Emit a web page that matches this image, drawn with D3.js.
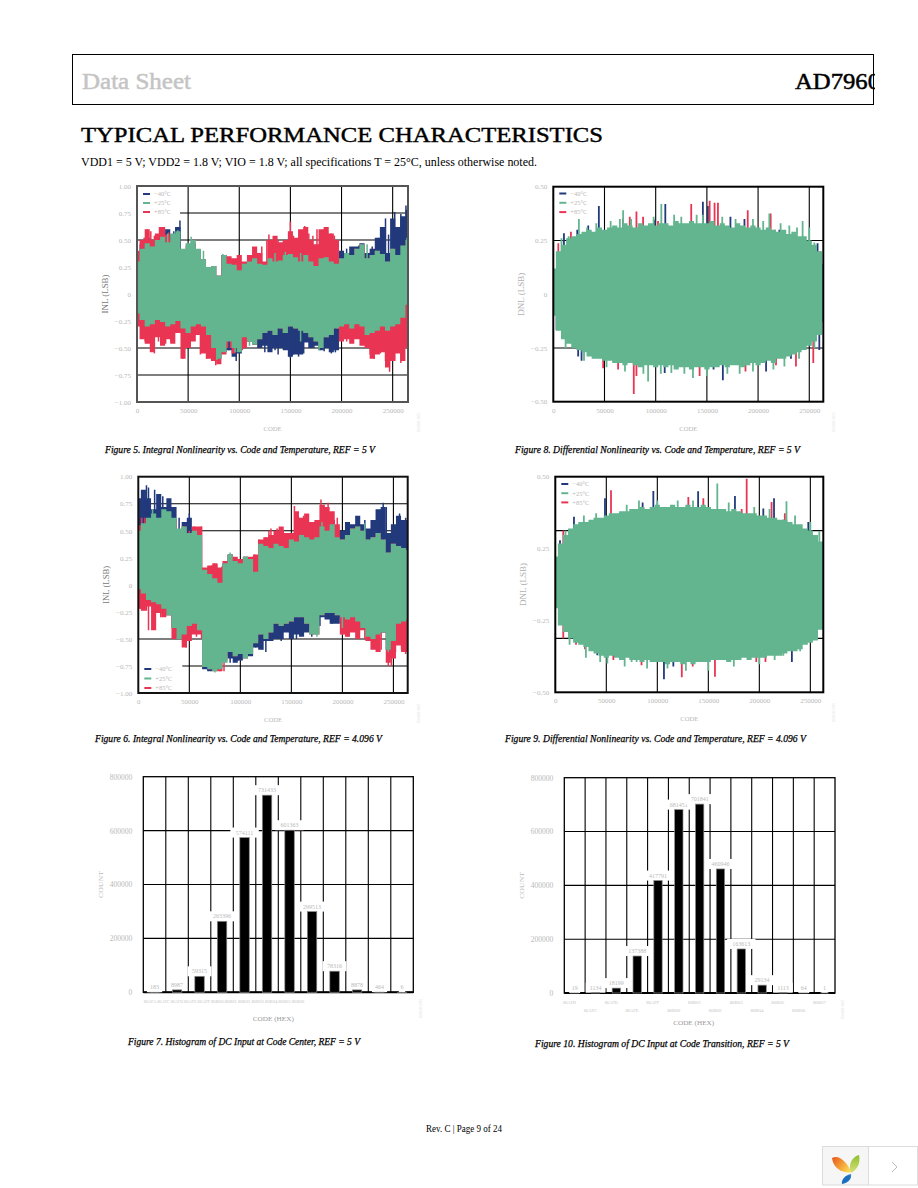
<!DOCTYPE html>
<html><head><meta charset="utf-8">
<script src="https://cdn.jsdelivr.net/npm/d3@7/dist/d3.min.js"></script>
<style>html,body{margin:0;padding:0;background:#fff}svg{display:block}</style>
</head><body><div id="page"></div>
<script>
const seriesColors = {blue:"#223a7c", green:"#62b58f", red:"#e93553"};
const legendLabels = ["\u221240\u00b0C","+25\u00b0C","+85\u00b0C"];
const codes = d3.range(0,270000,5000);
const xTicks = [0,50000,100000,150000,200000,250000];
const inlTicks = [1,.75,.5,.25,0,-.25,-.5,-.75,-1];
const inlTickLabels = ["1.00","0.75","0.50","0.25","0","\u22120.25","\u22120.50","\u22120.75","\u22121.00"];
const dnl5TickVals = [.5,.25,0,-.25,-.5];
const dnl5TickLabels = ["0.50","0.25","0","\u22120.25","\u22120.50"];
const dnl4TickLabels = ["0.50","0.25","\u22120.25","\u22120.50"];
const dnlGrid = [.25,-.25];

// Figure 5
const f5GreenU=[.30,.42,.47,.44,.50,.53,.48,.56,.58,.42,.47,.50,.42,.32,.25,.26,.17,.36,.28,.27,.22,.28,.30,.33,.28,.27,.33,.30,.31,.36,.37,.34,.30,.36,.30,.26,.33,.34,.30,.28,.33,.38,.36,.42,.46,.33,.36,.40,.37,.30,.42,.36,.45,.50];
const f5RedU=[.40,.50,.60,.50,.56,.62,.55,.50,.55,.40,.45,.48,.40,.32,.25,.26,.17,.36,.35,.33,.36,.30,.36,.44,.38,.30,.50,.54,.48,.50,.58,.52,.60,.62,.50,.46,.60,.62,.56,.50,.32,.34,.36,.42,.46,.33,.36,.40,.37,.30,.42,.36,.45,.50];
const f5BlueU=[.38,.46,.52,.46,.50,.56,.60,.55,.62,.40,.42,.46,.40,.32,.25,.26,.17,.36,.28,.27,.22,.28,.30,.33,.28,.27,.33,.30,.31,.36,.37,.34,.30,.36,.30,.26,.33,.34,.30,.30,.40,.38,.44,.44,.47,.38,.42,.52,.62,.38,.70,.62,.72,.78];
const f5GreenL=[-.18,-.24,-.30,-.28,-.24,-.26,-.30,-.28,-.25,-.32,-.36,-.30,-.28,-.30,-.38,-.50,-.60,-.54,-.44,-.50,-.54,-.40,-.44,-.47,-.42,-.36,-.34,-.38,-.32,-.36,-.30,-.32,-.34,-.36,-.40,-.44,-.50,-.40,-.38,-.32,-.30,-.28,-.32,-.28,-.30,-.38,-.36,-.34,-.30,-.34,-.30,-.28,-.22,-.10];
const f5RedL=[-.30,-.42,-.46,-.54,-.40,-.48,-.42,-.46,-.36,-.60,-.50,-.44,-.38,-.55,-.60,-.62,-.65,-.56,-.50,-.55,-.50,-.50,-.44,-.47,-.42,-.36,-.34,-.38,-.32,-.36,-.30,-.32,-.34,-.36,-.40,-.44,-.50,-.40,-.38,-.32,-.44,-.42,-.46,-.42,-.48,-.50,-.60,-.56,-.54,-.68,-.62,-.55,-.62,-.50];
const f5BlueL=[-.18,-.24,-.30,-.28,-.24,-.26,-.30,-.28,-.25,-.32,-.36,-.30,-.28,-.30,-.38,-.50,-.60,-.54,-.52,-.58,-.55,-.42,-.44,-.47,-.50,-.48,-.54,-.50,-.50,-.52,-.58,-.56,-.56,-.45,-.50,-.48,-.52,-.50,-.54,-.52,-.30,-.28,-.32,-.28,-.30,-.38,-.36,-.34,-.30,-.34,-.30,-.28,-.22,-.10];
const f5RedSpikes=[[10000,.60],[13500,.58],[22000,.62],[26000,.58],[7000,.52],[17000,.54],[31000,.57],[122000,.44],[127000,.50],[129000,.55],[133000,.50],[138000,.50],[142000,.46],[150000,.67],[153000,.54],[157000,.50],[161000,.59],[164000,.63],[168000,.56],[172000,.54],[176000,.60],[179000,.52],[183000,.60],[186000,.62],[190000,.56],[193000,.54],[3000,-.30],[8000,-.44],[12000,-.34],[17000,-.55],[21000,-.44],[28000,-.46],[33000,-.44],[38000,-.36],[45000,-.60],[52000,-.50],[62000,-.56],[68000,-.60],[73000,-.62],[77000,-.66],[85000,-.55],[92000,-.50],[103000,-.52],[205000,-.44],[212000,-.40],[220000,-.46],[228000,-.56],[232000,-.60],[238000,-.55],[243000,-.62],[247000,-.72],[252000,-.62],[258000,-.64],[263000,-.50]];
const f5BlueSpikes=[[42000,.68],[36000,.58],[4000,.42],[38000,.62],[230000,.44],[236000,.52],[240000,.60],[243000,.70],[246000,.55],[252000,.76],[255000,.60],[258000,.74],[261000,.70],[263000,.82],[211000,.43],[205000,.42],[221000,.46],[217000,.45],[97000,-.62],[90000,-.52],[115000,-.44],[120000,-.50],[125000,-.54],[135000,-.52],[138000,-.56],[150000,-.59],[153000,-.56],[158000,-.58],[163000,-.55],[183000,-.53],[190000,-.55],[194000,-.54],[173000,-.50]];
const f5GreenSpikes=[[40000,.59],[30000,.56],[53000,.53],[84000,.37],[65000,.40],[135000,.38],[145000,.39],[160000,.38],[225000,.46],[264000,.52],[78000,-.61],[160000,-.44],[178000,-.52],[110000,-.48],[96000,-.54]];
// Figure 6
const f6GreenU=[.50,.57,.62,.66,.62,.70,.68,.62,.52,.54,.48,.50,.46,.14,.10,.06,.02,.20,.28,.22,.20,.26,.24,.12,.38,.36,.34,.38,.36,.34,.42,.40,.46,.44,.42,.44,.54,.50,.56,.44,.42,.46,.52,.54,.50,.42,.44,.48,.42,.30,.38,.36,.34,.32];
const f6RedU=[.55,.62,.60,.58,.60,.58,.58,.60,.50,.54,.34,.54,.54,.16,.18,.20,.16,.22,.28,.26,.24,.26,.26,.28,.42,.44,.46,.50,.54,.48,.48,.68,.62,.66,.58,.60,.74,.72,.68,.56,.42,.46,.52,.54,.50,.42,.44,.48,.42,.30,.38,.36,.34,.32];
const f6BlueU=[.80,.88,.80,.70,.84,.72,.80,.72,.50,.58,.62,.40,.40,.14,.10,.06,.02,.20,.28,.22,.20,.26,.24,.12,.38,.36,.34,.38,.36,.34,.42,.40,.46,.44,.42,.44,.54,.50,.56,.50,.50,.58,.56,.64,.56,.52,.60,.70,.72,.48,.56,.64,.60,.60];
const f6GreenL=[-.04,-.08,-.14,-.16,-.18,-.22,-.28,-.40,-.50,-.46,-.38,-.36,-.42,-.76,-.78,-.80,-.78,-.72,-.62,-.66,-.64,-.68,-.64,-.54,-.46,-.50,-.44,-.36,-.38,-.36,-.34,-.30,-.30,-.36,-.46,-.46,-.28,-.26,-.26,-.28,-.30,-.32,-.30,-.34,-.40,-.48,-.50,-.46,-.44,-.60,-.52,-.36,-.34,-.32];
const f6RedL=[-.22,-.24,-.20,-.42,-.26,-.30,-.28,-.50,-.50,-.58,-.52,-.46,-.46,-.76,-.78,-.80,-.80,-.70,-.62,-.66,-.64,-.68,-.64,-.54,-.46,-.50,-.44,-.36,-.38,-.36,-.34,-.30,-.30,-.36,-.46,-.46,-.28,-.26,-.26,-.28,-.46,-.48,-.44,-.50,-.42,-.52,-.60,-.62,-.44,-.72,-.68,-.56,-.62,-.62];
const f6BlueL=[-.04,-.08,-.14,-.16,-.18,-.22,-.28,-.40,-.50,-.46,-.38,-.36,-.42,-.78,-.80,-.78,-.70,-.66,-.68,-.72,-.70,-.64,-.66,-.58,-.60,-.52,-.52,-.50,-.50,-.44,-.50,-.46,-.48,-.44,-.40,-.36,-.30,-.32,-.36,-.36,-.30,-.32,-.30,-.34,-.40,-.48,-.50,-.46,-.44,-.60,-.52,-.36,-.34,-.32];
const f6RedSpikes=[[62000,.54],[55000,.54],[50000,.50],[72000,.18],[77000,.19],[82000,.17],[88000,.22],[92000,.25],[100000,.20],[108000,.25],[112000,.26],[114000,.28],[118000,.42],[125000,.44],[128000,.50],[132000,.46],[130000,.52],[136000,.52],[142000,.50],[147000,.48],[153000,.73],[158000,.62],[162000,.64],[170000,.58],[179000,.79],[182000,.74],[186000,.76],[192000,.60],[195000,.62],[2000,-.22],[8000,-.24],[10000,-.42],[16000,-.26],[22000,-.30],[36000,-.50],[42000,-.46],[47000,-.58],[57000,-.48],[62000,-.50],[65000,-.55],[80000,-.80],[84000,-.80],[200000,-.46],[205000,-.48],[215000,-.44],[222000,-.50],[232000,-.56],[238000,-.60],[245000,-.75],[248000,-.75],[252000,-.62],[258000,-.60],[262000,-.64]];
const f6BlueSpikes=[[8000,.92],[10000,.90],[16000,.88],[24000,.82],[5000,.80],[30000,.70],[40000,.62],[50000,.66],[205000,.52],[215000,.56],[222000,.60],[227000,.50],[236000,.56],[240000,.76],[243000,.72],[256000,.66],[262000,.62],[68000,-.79],[90000,-.72],[98000,-.70],[115000,-.58],[122000,-.60],[125000,-.62],[132000,-.50],[140000,-.52],[155000,-.50],[160000,-.46],[170000,-.48],[178000,-.38],[190000,-.36]];
const f6GreenSpikes=[[14000,.70],[35000,.53],[44000,.54],[90000,.30],[180000,.58],[222000,.57],[75000,-.81],[175000,-.48],[200000,-.40],[245000,-.62]];
// Figure 8
const f8GreenU=[.12,.20,.23,.26,.27,.28,.29,.30,.29,.31,.30,.31,.32,.31,.33,.32,.31,.33,.32,.33,.32,.33,.33,.32,.34,.33,.33,.34,.33,.33,.33,.34,.32,.33,.32,.31,.33,.32,.31,.32,.31,.30,.31,.30,.29,.30,.28,.29,.27,.27,.25,.23,.20,.14];
const f8GreenL=[-.10,-.17,-.21,-.23,-.25,-.26,-.27,-.29,-.30,-.30,-.31,-.31,-.32,-.32,-.33,-.32,-.33,-.34,-.33,-.33,-.34,-.33,-.34,-.33,-.35,-.34,-.34,-.35,-.34,-.34,-.35,-.34,-.34,-.33,-.34,-.33,-.33,-.34,-.33,-.32,-.33,-.32,-.31,-.32,-.30,-.30,-.29,-.28,-.27,-.26,-.24,-.22,-.19,-.13];
const f8BlueSpikes=[[10400,.284],[23400,.30],[34100,.32],[44500,.41],[99000,.346],[109400,.42],[146100,.43],[151000,.41],[173000,.36],[186700,.35],[220800,.30],[258100,.237],[3200,-.166],[24300,-.29],[27600,-.31],[108800,-.367],[165600,-.40],[156500,-.35],[207800,-.36],[259800,-.26],[250000,-.24],[232100,-.30]];
const f8RedSpikes=[[4900,.237],[17200,.29],[68000,.35],[74700,.36],[81200,.385],[87700,.36],[102300,.34],[134700,.42],[152700,.435],[157500,.425],[160800,.425],[189900,.39],[212300,.375],[216200,.30],[260400,.20],[19500,-.23],[48700,-.344],[63300,-.35],[78600,-.464],[81200,-.38],[142900,-.38],[237000,-.336],[253900,-.32],[217500,-.33],[187700,-.36]];
const f8GreenSpikes=[[25000,.35],[68200,.39],[105500,.42],[146100,.37],[211000,.375],[230500,.32],[243500,.34],[250000,.31],[92600,-.406],[136400,-.39],[115300,-.367],[225700,-.336],[8000,.26],[15000,.27],[33000,.31],[42000,.33],[56000,.34],[65000,.35],[76000,.35],[98000,.36],[118000,.37],[125000,.36],[140000,.37],[165000,.36],[178000,.35],[195000,.35],[205000,.34],[222000,.33],[238000,.31],[255000,.24],[12000,-.25],[30000,-.31],[52000,-.34],[70000,-.36],[88000,-.37],[105000,-.37],[128000,-.37],[150000,-.38],[170000,-.37],[182000,-.37],[195000,-.36],[215000,-.35],[240000,-.30],[255000,-.25]];
// Figure 9
const f9GreenU=[.13,.19,.23,.26,.28,.29,.29,.30,.31,.31,.32,.33,.33,.34,.34,.35,.35,.36,.35,.36,.37,.36,.36,.37,.36,.36,.37,.36,.36,.37,.36,.35,.35,.35,.34,.35,.34,.33,.33,.33,.32,.32,.31,.31,.30,.30,.29,.28,.28,.26,.25,.23,.20,.14];
const f9GreenL=[-.11,-.19,-.22,-.25,-.27,-.28,-.29,-.31,-.32,-.33,-.34,-.33,-.34,-.35,-.34,-.35,-.35,-.36,-.35,-.36,-.36,-.36,-.37,-.36,-.36,-.37,-.36,-.37,-.36,-.36,-.36,-.35,-.35,-.35,-.36,-.35,-.35,-.34,-.35,-.34,-.34,-.34,-.33,-.33,-.33,-.32,-.31,-.31,-.30,-.28,-.27,-.26,-.21,-.13];
const f9BlueSpikes=[[4600,.205],[18300,.314],[48700,.40],[85600,.38],[96100,.434],[140000,.433],[176100,.41],[203900,.352],[214400,.40],[223500,.30],[248000,.29],[41200,-.328],[106500,-.44],[115700,-.38],[161500,-.34],[231900,-.36],[222000,-.31],[248000,-.266],[132000,-.35]];
const f9RedSpikes=[[7800,.25],[24200,.28],[35700,.29],[54600,.437],[89500,.35],[130400,.406],[145100,.40],[187600,.49],[182700,.35],[212000,.383],[225000,.33],[241500,.25],[7800,-.25],[20300,-.28],[29100,-.30],[56900,-.35],[84500,-.374],[124000,-.43],[134700,-.38],[138600,-.35],[156500,-.428],[197000,-.36],[206000,-.36],[241500,-.24],[250600,-.25]];
const f9GreenSpikes=[[62800,.33],[158800,.468],[226600,.386],[258800,.247],[151700,.36],[51000,-.366],[74800,-.36],[79700,-.36],[185700,-.33],[223500,-.33],[10000,.25],[28000,.32],[40000,.33],[70000,.37],[82000,.39],[100000,.39],[120000,.39],[135000,.39],[170000,.38],[195000,.36],[210000,.35],[235000,.32],[250000,.29],[14000,-.28],[30000,-.34],[44000,-.36],[68000,-.38],[90000,-.39],[110000,-.39],[128000,-.40],[150000,-.40],[175000,-.38],[200000,-.37],[215000,-.35],[240000,-.31]];
// Histograms
const f7Values=[183,8987,59315,263396,574111,731433,601363,299513,78316,8878,464,6];
const f7TickLabels=["86AFA","86AFC","86AFD","86AFE","86AFF","86B00","86B01","86B02","86B03","86B04","86B05","86B06"];
const f10Values=[19,1134,18199,137388,417791,681451,701841,460946,163613,29134,1113,64,1];
const f10TickLabels=["86AFB","86AFC","86AFD","86AFE","86AFF","86B00","86B01","86B02","86B03","86B04","86B05","86B06","86B07"];
const histTicks=[0,200000,400000,600000,800000];

const W=918,H=1188;
const svg=d3.select("#page").append("svg").attr("width",W).attr("height",H).attr("viewBox",`0 0 ${W} ${H}`);
const serif='"Liberation Serif","DejaVu Serif",serif';
function txt(g,s,x,y,o={}){
  const t=g.append("text").attr("x",x).attr("y",y).text(s).attr("font-family",serif)
   .attr("font-size",o.size||7).attr("fill",o.fill||"#000").attr("text-anchor",o.anchor||"start");
  if(o.weight)t.attr("font-weight",o.weight);
  if(o.style)t.attr("font-style",o.style);
  if(o.len)t.attr("textLength",o.len).attr("lengthAdjust","spacingAndGlyphs");
  if(o.rot)t.attr("transform",`rotate(-90 ${x} ${y})`);
  if(o.heavy)t.attr("stroke",o.fill||"#000").attr("stroke-width",o.heavy);
  return t;
}
const defs=svg.append("defs");
let clipN=0;
const tickGray="#b9b9b9";

function styleAxis(g,size){
  g.select(".domain").remove();
  g.selectAll("line").remove();
  g.selectAll("text").attr("font-family",serif).attr("font-size",size).attr("fill",tickGray);
}
function wm(x,y){
  txt(svg,"09496-005",x,y,{size:4.5,fill:"#dedede",rot:true});
}

function lineChart(c){
  const x=d3.scaleLinear().domain([0,c.xMax]).range([c.l,c.r]);
  const y=d3.scaleLinear().domain([-c.yMax,c.yMax]).range([c.b,c.t]);
  const gridG=svg.append("g");
  gridG.selectAll("line.h").data(c.hGrid).join("line").attr("x1",c.l).attr("x2",c.r).attr("y1",d=>y(d)).attr("y2",d=>y(d)).attr("stroke","#000").attr("stroke-width",1.1);
  gridG.selectAll("line.v").data(xTicks.slice(1)).join("line").attr("y1",c.t).attr("y2",c.b).attr("x1",d=>x(d)).attr("x2",d=>x(d)).attr("stroke","#000").attr("stroke-width",1.1);
  if(c.legendBox){ svg.append("rect").attr("x",c.l).attr("y",c.legendBox[0]).attr("width",c.legendBox[2]).attr("height",c.legendBox[1]-c.legendBox[0]).attr("fill","#fff"); }
  const id="clip"+(clipN++);
  defs.append("clipPath").attr("id",id).append("rect").attr("x",c.l).attr("y",c.t).attr("width",c.r-c.l).attr("height",c.b-c.t);
  const data=svg.append("g").attr("clip-path",`url(#${id})`);
  const area=(u,l)=>d3.area().curve(d3.curveStep).x((d,i)=>x(codes[i])).y1((d,i)=>y(u[i])).y0((d,i)=>y(l[i]))(codes);
  c.bands.forEach(b=>data.append("path").attr("d",area(b.u,b.l)).attr("fill",seriesColors[b.k]));
  c.spikes.forEach(s=>data.append("g").selectAll("line").data(s.d).join("line")
     .attr("x1",d=>x(d[0])).attr("x2",d=>x(d[0])).attr("y1",y(0)).attr("y2",d=>y(d[1]))
     .attr("stroke",seriesColors[s.k]).attr("stroke-width",c.spikeW));
  const d=c.top; data.append("path").attr("d",area(d.u,d.l)).attr("fill",seriesColors.green);
  svg.append("rect").attr("x",c.l).attr("y",c.t).attr("width",c.r-c.l).attr("height",c.b-c.t).attr("fill","none").attr("stroke",c.frame).attr("stroke-width",c.frameW);
  const ax=svg.append("g").attr("transform",`translate(0,${c.b+6})`).call(d3.axisBottom(x).tickValues(xTicks).tickFormat(d3.format("d")).tickSize(0).tickPadding(0));
  styleAxis(ax,7);
  if(c.yLabelsPoint){
    const yp=d3.scalePoint().domain(c.yLabels).range([c.t,c.b]);
    const ay=svg.append("g").attr("transform",`translate(${c.l-6},0)`).call(d3.axisLeft(yp).tickSize(0).tickPadding(0));
    styleAxis(ay,7);
  } else {
    const m=new Map(c.yVals.map((v,i)=>[v,c.yLabels[i]]));
    const ay=svg.append("g").attr("transform",`translate(${c.l-6},0)`).call(d3.axisLeft(y).tickValues(c.yVals).tickFormat(d=>m.get(d)).tickSize(0).tickPadding(0));
    styleAxis(ay,7);
  }
  txt(svg,"CODE",(c.l+c.r)/2,c.b+29,{size:7,fill:tickGray,anchor:"middle",len:18});
  txt(svg,c.yTitle,c.l-29,(c.t+c.b)/2,{size:8,fill:c.yTitleFill,anchor:"middle",rot:true,len:c.yTitleLen});
  wm(c.r+12,c.b+30);
  ["blue","green","red"].forEach((k,i)=>{
    const ly=c.legendY+i*c.legendStep;
    svg.append("line").attr("x1",c.l+6).attr("x2",c.l+13).attr("y1",ly).attr("y2",ly).attr("stroke",seriesColors[k]).attr("stroke-width",2);
    txt(svg,legendLabels[i],c.l+17,ly+2.3,{size:6.5,fill:tickGray});
  });
}

lineChart({l:137,r:408,t:186,b:402,xMax:265000,yMax:1,hGrid:[.75,.5,-.5,-.75],frame:"#555",frameW:2,spikeW:1.5,
  yVals:inlTicks,yLabels:inlTickLabels,yTitle:"INL (LSB)",yTitleFill:"#777",yTitleLen:39,
  bands:[{k:"blue",u:f5BlueU,l:f5BlueL},{k:"red",u:f5RedU,l:f5RedL}],
  spikes:[{k:"blue",d:f5BlueSpikes},{k:"red",d:f5RedSpikes},{k:"green",d:f5GreenSpikes}],top:{u:f5GreenU,l:f5GreenL},
  legendBox:[187,216,43],legendY:194,legendStep:9});
lineChart({l:138.3,r:407.7,t:476.7,b:693,xMax:264000,yMax:1,hGrid:[.75,.5,-.5,-.75],frame:"#111",frameW:2,spikeW:1.5,
  yVals:inlTicks,yLabels:inlTickLabels,yTitle:"INL (LSB)",yTitleFill:"#777",yTitleLen:38,
  bands:[{k:"blue",u:f6BlueU,l:f6BlueL},{k:"red",u:f6RedU,l:f6RedL}],
  spikes:[{k:"blue",d:f6BlueSpikes},{k:"red",d:f6RedSpikes},{k:"green",d:f6GreenSpikes}],top:{u:f6GreenU,l:f6GreenL},
  legendBox:[665,692,44],legendY:669,legendStep:9.5});
lineChart({l:553.3,r:823.3,t:186.7,b:401.7,xMax:263700,yMax:.5,hGrid:dnlGrid,frame:"#000",frameW:2,spikeW:1.8,
  yVals:dnl5TickVals,yLabels:dnl5TickLabels,yTitle:"DNL (LSB)",yTitleFill:"#b0b0b0",yTitleLen:43,
  bands:[],spikes:[{k:"blue",d:f8BlueSpikes},{k:"red",d:f8RedSpikes},{k:"green",d:f8GreenSpikes}],top:{u:f8GreenU,l:f8GreenL},
  legendY:193.5,legendStep:9.3});
lineChart({l:555.3,r:823.3,t:476.7,b:692.3,xMax:262700,yMax:.5,hGrid:dnlGrid,frame:"#000",frameW:2,spikeW:1.8,
  yLabelsPoint:true,yLabels:dnl4TickLabels,yTitle:"DNL (LSB)",yTitleFill:"#b0b0b0",yTitleLen:43,
  bands:[],spikes:[{k:"blue",d:f9BlueSpikes},{k:"red",d:f9RedSpikes},{k:"green",d:f9GreenSpikes}],top:{u:f9GreenU,l:f9GreenL},
  legendY:484,legendStep:9.2});

function hist(c){
  const x=d3.scaleBand().domain(d3.range(c.values.length)).range([c.l,c.r]).paddingInner(c.pad).paddingOuter(c.pad/2);
  const y=d3.scaleLinear().domain([0,800000]).range([c.b,c.t]);
  const step=x.step();
  const g=svg.append("g");
  g.selectAll("line.v").data(d3.range(1,c.values.length)).join("line").attr("x1",d=>c.l+d*step).attr("x2",d=>c.l+d*step).attr("y1",c.t).attr("y2",c.b).attr("stroke","#000").attr("stroke-width",1.1);
  g.selectAll("line.h").data(histTicks.slice(1,4)).join("line").attr("x1",c.l).attr("x2",c.r).attr("y1",d=>y(d)).attr("y2",d=>y(d)).attr("stroke","#000").attr("stroke-width",1.1);
  svg.append("rect").attr("x",c.l).attr("y",c.t).attr("width",c.r-c.l).attr("height",c.b-c.t).attr("fill","none").attr("stroke","#000").attr("stroke-width",1.3);
  svg.append("line").attr("x1",c.l).attr("x2",c.r).attr("y1",c.b).attr("y2",c.b).attr("stroke","#000").attr("stroke-width",2);
  c.values.forEach((v,i)=>{
    const s=String(v), cx=x(i)+x.bandwidth()/2, ly=y(v)-5;
    const w=s.length*4.4+2;
    svg.append("rect").attr("x",cx-w/2).attr("y",ly-5).attr("width",w).attr("height",10).attr("fill","#fff");
    txt(svg,s,cx,ly+2,{size:6,fill:tickGray,anchor:"middle"});
    svg.append("rect").attr("x",x(i)).attr("y",y(v)).attr("width",x.bandwidth()).attr("height",c.b-y(v)).attr("fill","#000").attr("stroke","#8a8a8a").attr("stroke-width",.7);
  });
  const ay=svg.append("g").attr("transform",`translate(${c.l-11},0)`).call(d3.axisLeft(y).tickValues(histTicks).tickFormat(d3.format("d")).tickSize(0).tickPadding(0));
  styleAxis(ay,7.5);
  c.tickDraw(x);
  txt(svg,"COUNT",c.l-40.5,(c.t+c.b)/2,{size:7,fill:tickGray,anchor:"middle",rot:true,len:27});
  txt(svg,"CODE (HEX)",(c.l+c.r)/2+c.titleDx,c.titleY,{size:7,fill:"#999",anchor:"middle",len:41});
  wm(c.r+9,c.b+26);
}
hist({l:143.3,r:413.3,t:776.7,b:992.3,values:f7Values,pad:.58,titleDx:-5,titleY:1021,
  tickDraw:()=>{
    const p=d3.scalePoint().domain(f7TickLabels).range([150,298]);
    f7TickLabels.forEach(s=>txt(svg,s,p(s),1003,{size:5,fill:"#c4c4c4",anchor:"middle",len:12.5}));
  }});
hist({l:564.3,r:835,t:777.7,b:993,values:f10Values,pad:.6,titleDx:-6,titleY:1025,
  tickDraw:(x)=>{
    f10TickLabels.forEach((s,i)=>txt(svg,s,x(i)-1,i%2?1012:1003.5,{size:5,fill:"#c4c4c4",anchor:"middle",len:13}));
  }});

// Page furniture
svg.append("rect").attr("x",72.5).attr("y",54.5).attr("width",801).attr("height",50).attr("fill","none").attr("stroke","#000").attr("stroke-width",1);
txt(svg,"Data Sheet",82,89,{size:23,fill:"#c4c4c4",heavy:.5,len:109});
defs.append("clipPath").attr("id","hdr").append("rect").attr("x",72).attr("y",54).attr("width",803).attr("height",51);
txt(svg,"AD7960",795,89,{size:23,heavy:.5,len:85}).attr("clip-path","url(#hdr)");
txt(svg,"TYPICAL PERFORMANCE CHARACTERISTICS",81,142,{size:22,heavy:.45,len:522});
txt(svg,"VDD1 = 5 V; VDD2 = 1.8 V; VIO = 1.8 V; all specifications T = 25\u00b0C, unless otherwise noted.",81,166,{size:12,len:456});
const caps=[["Figure 5. Integral Nonlinearity vs. Code and Temperature, REF = 5 V",105,453,270],
["Figure 8. Differential Nonlinearity vs. Code and Temperature, REF = 5 V",515,453,285],
["Figure 6. Integral Nonlinearity vs. Code and Temperature, REF = 4.096 V",95,742,287],
["Figure 9. Differential Nonlinearity vs. Code and Temperature, REF = 4.096 V",505,742,301],
["Figure 7. Histogram of DC Input at Code Center, REF = 5 V",128,1045,232],
["Figure 10. Histogram of DC Input at Code Transition, REF = 5 V",535,1047,254]];
caps.forEach(c=>txt(svg,c[0],c[1],c[2],{size:10.5,style:"italic",heavy:.25,len:c[3]}));
txt(svg,"Rev. C | Page 9 of 24",426,1132,{size:10,len:76});

// Viewer widget
svg.append("rect").attr("x",822.5).attr("y",1146.5).attr("width",46).attr("height",38.5).attr("fill","#f6f6f6").attr("stroke","#dcdcdc");
svg.append("rect").attr("x",868.5).attr("y",1146.5).attr("width",49).attr("height",38.5).attr("fill","#fff").attr("stroke","#dcdcdc");
const grad=(id,a,b,x2,y2)=>{const g=defs.append("linearGradient").attr("id",id).attr("x1",0).attr("y1",0).attr("x2",x2).attr("y2",y2);g.append("stop").attr("offset",0).attr("stop-color",a);g.append("stop").attr("offset",1).attr("stop-color",b);};
grad("lo","#e8541b","#fbd34c",1,.6);grad("lg","#8fbf2f","#d8e27a",0,1);grad("lb","#1d6fc0","#8cc4ea",.4,-1);
svg.append("path").attr("d","M832 1158 C840 1154 848 1164 851 1172 C843 1174 833 1168 832 1158Z").attr("fill","url(#lo)");
svg.append("path").attr("d","M859 1155 C861 1163 857 1170 851 1173 C848 1166 851 1157 859 1155Z").attr("fill","url(#lg)");
svg.append("path").attr("d","M851 1174 C852 1179 848 1183 842 1184 C841 1180 845 1175 851 1174Z").attr("fill","url(#lb)");
svg.append("path").attr("d","M892 1162 L897 1167 L892 1172").attr("fill","none").attr("stroke","#bbb").attr("stroke-width",1);
</script></body></html>
